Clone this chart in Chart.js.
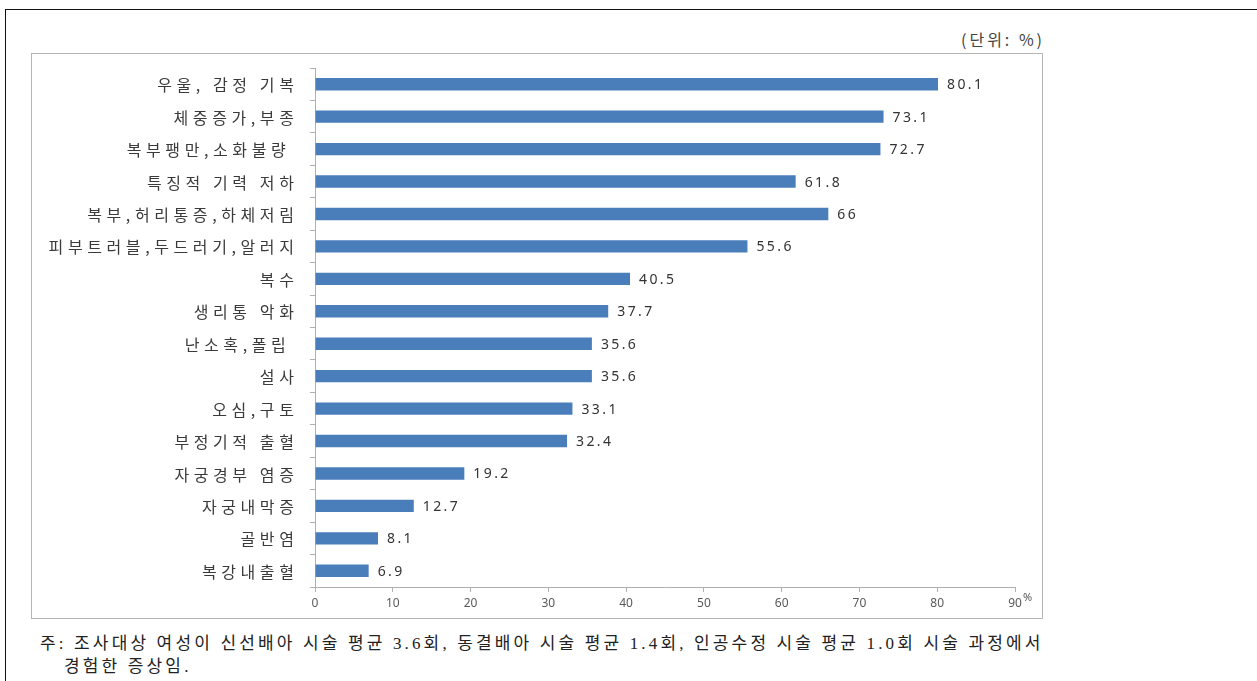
<!DOCTYPE html>
<html>
<head>
<meta charset="utf-8">
<script src="https://cdn.jsdelivr.net/npm/chart.js@4"></script>
<style>
  body { margin: 0; background: #fff; width: 1257px; height: 681px; overflow: hidden; position: relative; font-family: "Noto Sans CJK KR", sans-serif; }
  #frame { position: absolute; left: 5px; top: 9px; width: 1260px; height: 680px; border-top: 1.5px solid #111; border-left: 1.5px solid #111; }
  #unit { position: absolute; left: 961px; top: 27px; font-size: 16px; letter-spacing: 3px; color: #444; }
  #box { position: absolute; left: 31px; top: 53px; width: 1010px; height: 564px; border: 1px solid #b5b5b5; }
  #wrap { position: absolute; left: 31px; top: 53px; width: 1011px; height: 565px; }
  #note { position: absolute; left: 40px; top: 632px; font-family: "Liberation Serif", "Noto Sans CJK KR", serif; font-size: 17px; letter-spacing: 3.15px; color: #222; line-height: 23px; white-space: nowrap; }
  #note .indent { padding-left: 24px; }
</style>
</head>
<body>
<div id="frame"></div>
<div id="unit">(단위: %)</div>
<div id="box"></div>
<div id="wrap"><canvas id="chart"></canvas></div>
<div id="note">주: 조사대상 여성이 신선배아 시술 평균 3.6회, 동결배아 시술 평균 1.4회, 인공수정 시술 평균 1.0회 시술 과정에서<br><span class="indent">경험한 증상임.</span></div>
<script>
const symptoms = [
    "우울, 감정 기복", "체중증가,부종", "복부팽만,소화불량 ", "특징적 기력 저하",
    "복부,허리통증,하체저림", "피부트러블,두드러기,알러지", "복수", "생리통 악화",
    "난소혹,폴립 ", "설사", "오심,구토", "부정기적 출혈",
    "자궁경부 염증", "자궁내막증", "골반염", "복강내출혈"
];
const rates = [80.1, 73.1, 72.7, 61.8, 66, 55.6, 40.5, 37.7, 35.6, 35.6, 33.1, 32.4, 19.2, 12.7, 8.1, 6.9];
const xTicks = [0, 10, 20, 30, 40, 50, 60, 70, 80, 90];

// category names, value labels and the "%" after the last tick
// (drawn by hand so the wide letter spacing of the original can be kept)
const textLayer = {
    id: "textLayer",
    afterDatasetsDraw(chart) {
        const ctx = chart.ctx;
        const ys = chart.scales.y;
        const xs = chart.scales.x;
        ctx.save();
        ctx.textBaseline = "middle";

        ctx.font = "16px 'Noto Sans CJK KR', sans-serif";
        ctx.fillStyle = "#3a3a3a";
        ctx.textAlign = "right";
        ctx.letterSpacing = "4.6px";
        symptoms.forEach((name, i) => {
            ctx.fillText(name, chart.chartArea.left - 16.5, ys.getPixelForValue(i) + 1);
        });

        ctx.font = "14px 'Noto Sans', sans-serif";
        ctx.fillStyle = "#333";
        ctx.textAlign = "left";
        ctx.letterSpacing = "2.4px";
        chart.getDatasetMeta(0).data.forEach((bar, i) => {
            ctx.fillText(String(rates[i]), bar.x + 9, bar.y + 1);
        });

        ctx.font = "11px 'Noto Sans', sans-serif";
        ctx.fillStyle = "#555";
        ctx.letterSpacing = "0px";
        ctx.fillText("%", xs.getPixelForValue(90) + 8, xs.top + 11);
        ctx.restore();
    }
};

new Chart(document.getElementById("chart"), {
    type: "bar",
    data: {
        labels: symptoms,
        datasets: [{
            data: rates,
            backgroundColor: "#4a7ebb",
            borderWidth: 0,
            barPercentage: 0.38,
            categoryPercentage: 1
        }]
    },
    options: {
        indexAxis: "y",
        responsive: true,
        maintainAspectRatio: false,
        animation: false,
        layout: { padding: { top: 15, right: 27, left: 0, bottom: 0 } },
        plugins: { legend: { display: false }, tooltip: { enabled: false } },
        scales: {
            x: {
                min: 0,
                max: 90,
                afterFit: (scale) => {
                    scale.height = 31;
                    scale.paddingLeft = 0;
                    scale.paddingRight = 0;
                },
                afterBuildTicks: (scale) => { scale.ticks = xTicks.map(v => ({ value: v })); },
                border: { color: "#b0b0b0" },
                grid: { drawOnChartArea: false, drawTicks: true, tickLength: 5, color: "#b0b0b0" },
                ticks: { color: "#5a5a5a", font: { size: 12, family: "'Noto Sans', sans-serif" }, padding: 4 }
            },
            y: {
                afterFit: (scale) => {
                    scale.width = 284;
                    scale.paddingTop = 0;
                    scale.paddingBottom = 0;
                },
                border: { color: "#b0b0b0" },
                grid: { drawOnChartArea: false, drawTicks: true, tickLength: 5, color: "#b0b0b0", offset: true },
                ticks: { display: false }
            }
        }
    },
    plugins: [textLayer]
});
</script>
</body>
</html>
